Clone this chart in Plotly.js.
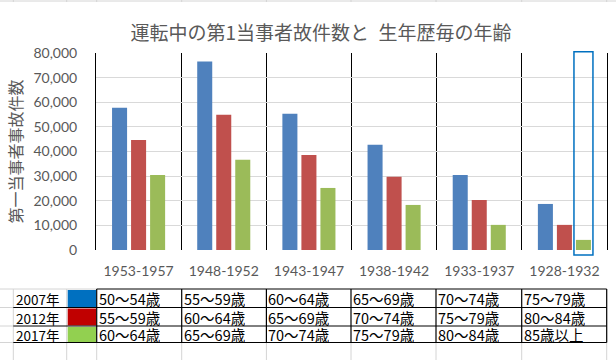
<!DOCTYPE html>
<html>
<head>
<meta charset="utf-8">
<script src="https://cdn.plot.ly/plotly-3.0.1.min.js"></script>
<style>html,body{margin:0;padding:0;background:#fff;}#chart{width:616px;height:360px;}</style>
</head>
<body>
<div id="chart"></div>
<script>
// ---- data ----
const categories = ['1953-1957','1948-1952','1943-1947','1938-1942','1933-1937','1928-1932'];
const seriesNames = ['2007年','2012年','2017年'];
const v2007 = [57800, 76500, 55300, 42700, 30500, 18700];
const v2012 = [44700, 54900, 38600, 29700, 20300, 10200];
const v2017 = [30500, 36600, 25200, 18300, 10200, 4100];
const age2007 = ['50～54歳','55～59歳','60～64歳','65～69歳','70～74歳','75～79歳'];
const age2012 = ['55～59歳','60～64歳','65～69歳','70～74歳','75～79歳','80～84歳'];
const age2017 = ['60～64歳','65～69歳','70～74歳','75～79歳','80～84歳','85歳以上'];
const yTicks = [0,10000,20000,30000,40000,50000,60000,70000,80000];

// ---- layout geometry (pixels) ----
const W = 616, H = 360;
const L = 96, R = 607, T = 53, B = 250;
const pw = R - L, ph = B - T;
const px = x => (x - L) / pw;
const py = y => (B - y) / ph;

const barColors = ['#4f81bd','#c0504d','#9bbb59'];
const swatchColors = ['#0070c0','#c00000','#92d050'];
const jp = '"Noto Sans CJK JP", sans-serif';

const traces = [v2007, v2012, v2017].map((v, i) => ({
  type: 'bar', x: categories, y: v, name: seriesNames[i],
  marker: {color: barColors[i]}, hoverinfo: 'none'
}));

// ---- spreadsheet table below chart ----
const colX = [13.3, 66.7, 96.7, 181.7, 266.4, 351, 436, 521.7, 606.7];
const rowY = [289, 307.5, 326, 342.5];
const shapes = [];
const annotations = [];
const line = (x0, y0, x1, y1, color, w) => shapes.push({
  type: 'line', xref: 'paper', yref: 'paper',
  x0: px(x0), y0: py(y0), x1: px(x1), y1: py(y1),
  line: {color: color, width: w}, layer: 'above'
});
const grey = '#d4d4d4';
// top sheet grid line
line(0, 1, W, 1, grey, 1);
colX.forEach(x => line(x, 0, x, 2, grey, 1));
// grey grid below/around table
colX.forEach(x => line(x, 342.5, x, H, grey, 1));
line(0, 289, 96.7, 289, grey, 1);
[307.5, 326, 342.5].forEach(y => line(0, y, 13.3, y, grey, 1));
line(13.3, 289, 13.3, 342.5, grey, 1);
line(66.7, 289, 66.7, 342.5, grey, 1);
// swatches
swatchColors.forEach((c, i) => shapes.push({
  type: 'rect', xref: 'paper', yref: 'paper',
  x0: px(67.7), x1: px(96), y0: py(rowY[i] + 1), y1: py(rowY[i + 1] - 0.5),
  fillcolor: c, line: {width: 0}, layer: 'above'
}));
// black borders
line(96.7, 289, 606.7, 289, '#000', 1);
[307.5, 326, 342.5].forEach(y => line(13.3, y, 606.7, y, '#000', 1));
colX.slice(2).forEach(x => line(x, 289, x, 342.5, '#000', 1.2));

// table text
const rowsText = [age2007, age2012, age2017];
seriesNames.forEach((s, i) => {
  const yc = (rowY[i] + rowY[i + 1]) / 2 + 0.5;
  annotations.push({xref: 'paper', yref: 'paper', x: px(15), y: py(yc), xanchor: 'left', yanchor: 'middle',
    text: s, showarrow: false, borderpad: 0, height: 17, font: {family: jp, size: 13.5, color: '#000'}});
  rowsText[i].forEach((t, j) => {
    annotations.push({xref: 'paper', yref: 'paper', x: px(colX[j + 2] + 1), y: py(yc), xanchor: 'left', yanchor: 'middle',
      text: t, showarrow: false, borderpad: 0, height: 17, font: {family: jp, size: 14.5, color: '#000'}});
  });
});

// selection frame around the last data point (Excel selection)
shapes.push({type: 'rect', xref: 'x', yref: 'paper', x0: 5.112, x1: 5.335,
  y0: py(255), y1: py(51.7), line: {color: '#0070c0', width: 1.5}, fillcolor: 'rgba(0,0,0,0)', layer: 'above'});

const layout = {
  width: W, height: H,
  margin: {l: L, r: W - R, t: T, b: H - B, pad: 0},
  paper_bgcolor: '#fff', plot_bgcolor: '#fff',
  showlegend: false,
  barmode: 'group', bargap: 0.33, bargroupgap: 0.21,
  title: {text: '運転中の第1当事者故件数と\u2002生年歴毎の年齢', font: {family: jp, size: 19, color: '#595959'},
    x: 321 / W, xref: 'container', xanchor: 'center', y: 1 - 33.5 / H, yref: 'container', yanchor: 'middle'},
  xaxis: {type: 'category', tickson: 'boundaries', showgrid: true, gridcolor: '#000', gridwidth: 1,
    ticks: '', showline: false, zeroline: false,
    tickfont: {family: 'Lato, sans-serif', size: 14, color: '#595959'}, ticklabelstandoff: 11},
  yaxis: {range: [0, 80000], tickvals: yTicks, tickformat: ',d', showgrid: true, gridcolor: '#d9d9d9', gridwidth: 1,
    zeroline: false, showline: true, mirror: true, linecolor: '#000', linewidth: 1, ticks: '',
    tickfont: {family: 'Lato, sans-serif', size: 14, color: '#595959'}, ticklabelstandoff: 15,
    title: {text: '第一当事者事故件数', font: {family: jp, size: 16, color: '#595959'}, standoff: 6}},
  shapes: shapes, annotations: annotations
};

Plotly.newPlot('chart', traces, layout, {displayModeBar: false, staticPlot: true});
</script>
</body>
</html>
